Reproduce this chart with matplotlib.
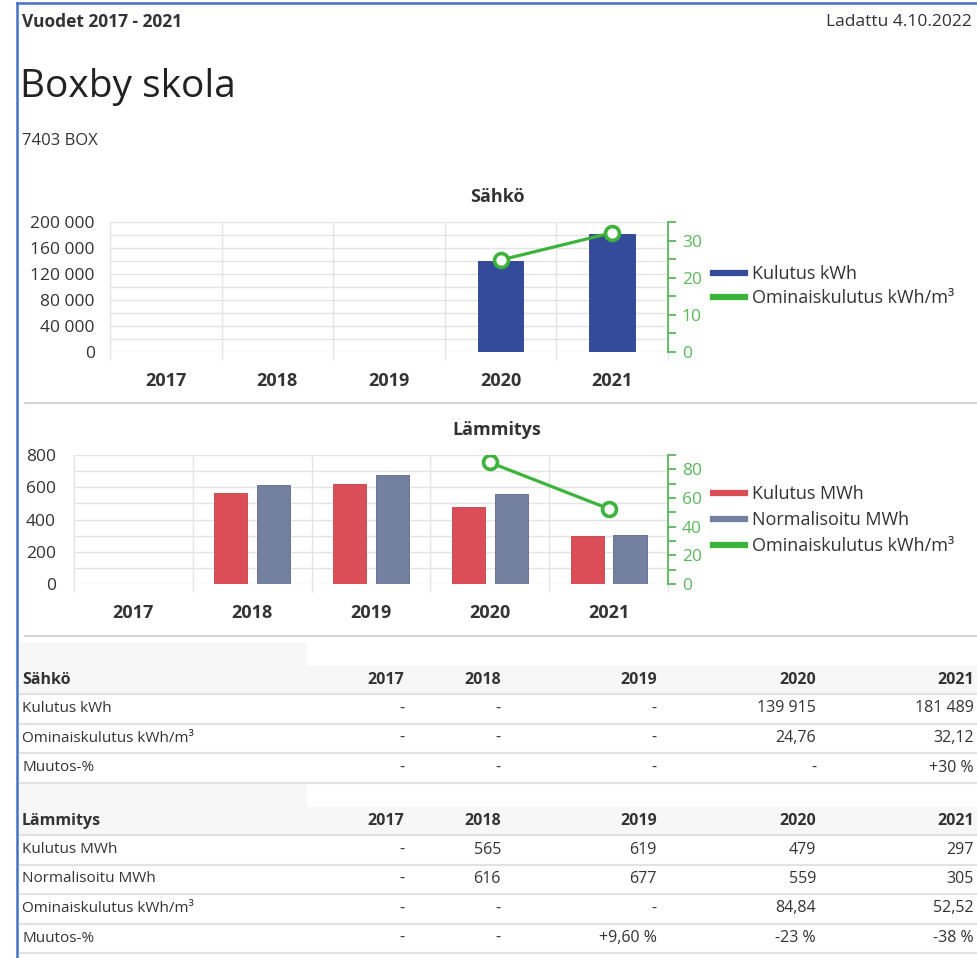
import numpy as np
import matplotlib
matplotlib.use("Agg")
import matplotlib.pyplot as plt
from matplotlib.lines import Line2D
from matplotlib.patches import Rectangle
from matplotlib.ticker import FuncFormatter, MultipleLocator

plt.rcParams["font.family"] = ["Open Sans", "DejaVu Sans"]

# Data
years = ["2017", "2018", "2019", "2020", "2021"]
sahko_kulutus = [np.nan, np.nan, np.nan, 139915, 181489]
sahko_omin = [np.nan, np.nan, np.nan, 24.76, 32.12]
sahko_muutos = ["-", "-", "-", "-", "+30 %"]
lampo_kulutus = [np.nan, 565, 619, 479, 297]
lampo_norm = [np.nan, 616, 677, 559, 305]
lampo_omin = [np.nan, np.nan, np.nan, 84.84, 52.52]
lampo_muutos = ["-", "-", "+9,60 %", "-23 %", "-38 %"]

W, H = 977, 958
TXT = "#333333"
BLUE = "#344a9a"
RED = "#db4e58"
SLATE = "#7380a0"
GREEN = "#3cb43c"
GREEN_TXT = "#5cb85c"
GRID = "#e4e4e4"

fig = plt.figure(figsize=(W / 100, H / 100), dpi=100)


def fx(x):
    return x / W


def fy(y):
    return 1 - y / H


def hline(x0, x1, y, color, lw):
    fig.add_artist(Line2D([fx(x0), fx(x1)], [fy(y), fy(y)], color=color, lw=lw,
                          transform=fig.transFigure))


def box(x0, y0, x1, y1, color):
    fig.add_artist(Rectangle((fx(x0), fy(y1)), fx(x1) - fx(x0), fy(y0) - fy(y1),
                             facecolor=color, edgecolor="none", transform=fig.transFigure, zorder=0))


def fi_num(v, dec=0):
    if v is None or (isinstance(v, float) and np.isnan(v)):
        return "-"
    s = f"{v:,.{dec}f}"
    return s.replace(",", " ").replace(".", ",")


# page frame
fig.add_artist(Line2D([fx(17), fx(17)], [fy(3), fy(958)], color="#4472c4", lw=1.8,
                      transform=fig.transFigure))
hline(17, 977, 3, "#4472c4", 1.8)

fig.text(fx(22), fy(22), "Vuodet 2017 - 2021", fontsize=12.5, fontweight="bold", color=TXT, va="center")
fig.text(fx(972), fy(22), "Ladattu 4.10.2022", fontsize=12.5, color=TXT, va="center", ha="right")
fig.text(fx(20), fy(87), "Boxby skola", fontsize=28, color="#222222", va="center")
fig.text(fx(22), fy(141), "7403 BOX", fontsize=12, color=TXT, va="center")

hline(25, 977, 403, "#cccccc", 1.2)
hline(25, 977, 636, "#cccccc", 1.2)


def setup_axes(ax, ymax, major, minor, fmt, pad):
    x = np.arange(len(years))
    ax.set_xlim(-0.5, len(years) - 0.5)
    ax.set_ylim(0, ymax)
    ax.set_xticks(x)
    ax.set_xticklabels(years, fontweight="bold", fontsize=13, color=TXT)
    ax.tick_params(axis="x", length=0, pad=14.5)
    ax.yaxis.set_major_locator(MultipleLocator(major))
    ax.yaxis.set_minor_locator(MultipleLocator(minor))
    ax.yaxis.set_major_formatter(FuncFormatter(fmt))
    ax.tick_params(axis="y", which="both", length=0, labelsize=12.5, labelcolor=TXT, pad=pad)
    ax.grid(axis="y", which="both", color=GRID, lw=1)
    ax.set_axisbelow(True)
    for s in ax.spines.values():
        s.set_visible(False)
    ax.vlines(np.arange(-0.5, len(years)), -0.065, 1, transform=ax.get_xaxis_transform(),
              color=GRID, lw=1, clip_on=False, zorder=0)


def setup_right(ax2, ymax, minor, labels_every):
    ax2.set_ylim(0, ymax)
    ax2.yaxis.set_major_locator(MultipleLocator(labels_every))
    ax2.yaxis.set_minor_locator(MultipleLocator(minor))
    ax2.tick_params(axis="y", which="both", length=6, width=1.3, color=GREEN_TXT,
                    labelcolor=GREEN_TXT, labelsize=12.5, pad=4)
    for k in ("left", "top", "bottom"):
        ax2.spines[k].set_visible(False)
    ax2.spines["right"].set_color(GREEN_TXT)
    ax2.spines["right"].set_linewidth(1.3)
    ax2.yaxis.set_major_formatter(FuncFormatter(lambda v, p: f"{v:.0f}"))


def legend(ax, handles, labels, ycenter, spacing):
    ax.legend(handles, labels, loc="center left", bbox_to_anchor=(fx(713), fy(ycenter)),
              bbox_transform=fig.transFigure, frameon=False, fontsize=13, labelcolor=TXT,
              handlelength=1.75, handletextpad=0.4, labelspacing=spacing, borderpad=0, borderaxespad=0)


x = np.arange(len(years))
space_fmt = lambda v, p: fi_num(v)

# Sähkö chart
ax1 = fig.add_axes([fx(110), fy(352), fx(668) - fx(110), fy(222) - fy(352)])
setup_axes(ax1, 200000, 40000, 20000, space_fmt, 11)
ax1.bar(x, sahko_kulutus, width=0.41, color=BLUE, edgecolor="#2c3f86", lw=0.6)
ax1b = ax1.twinx()
setup_right(ax1b, 35, 5, 10)
ax1b.plot(x, sahko_omin, color=GREEN, lw=2.3, marker="o", markersize=10,
          markerfacecolor="white", markeredgecolor=GREEN, markeredgewidth=2.6)
fig.text(fx(497), fy(197), "Sähkö", fontsize=13, fontweight="bold", color=TXT, ha="center", va="center")
legend(ax1b, [Line2D([], [], color=BLUE, lw=4.5), Line2D([], [], color=GREEN, lw=4.5)],
       ["Kulutus kWh", "Ominaiskulutus kWh/m³"], 286, 0.33)

# Lämmitys chart
ax2 = fig.add_axes([fx(74), fy(584), fx(668) - fx(74), fy(455) - fy(584)])
setup_axes(ax2, 800, 200, 100, space_fmt, 13)
ax2.bar(x - 0.18, lampo_kulutus, width=0.28, color=RED, edgecolor="#c2414b", lw=0.6)
ax2.bar(x + 0.18, lampo_norm, width=0.28, color=SLATE, edgecolor="#5e6a8a", lw=0.6)
ax2b = ax2.twinx()
setup_right(ax2b, 90, 10, 20)
ax2b.plot(x, lampo_omin, color=GREEN, lw=2.3, marker="o", markersize=10,
          markerfacecolor="white", markeredgecolor=GREEN, markeredgewidth=2.6)
fig.text(fx(497), fy(430), "Lämmitys", fontsize=13, fontweight="bold", color=TXT, ha="center", va="center")
legend(ax2b, [Line2D([], [], color=RED, lw=4.5), Line2D([], [], color=SLATE, lw=4.5),
              Line2D([], [], color=GREEN, lw=4.5)],
       ["Kulutus MWh", "Normalisoitu MWh", "Ominaiskulutus kWh/m³"], 520, 0.44)

# Tables
col_right = [404, 501, 657, 816, 974]


def table(top, title, rows):
    box(20, top - 23, 307, top, "#f7f7f7")
    box(20, top, 977, top + 28, "#f7f7f7")
    fig.text(fx(22), fy(top + 14), title, fontsize=11.5, fontweight="bold", color=TXT, va="center")
    for xr, yr in zip(col_right, years):
        fig.text(fx(xr), fy(top + 14), yr, fontsize=11.5, fontweight="bold", color=TXT, va="center", ha="right")
    hline(20, 977, top + 28, "#e2e2e2", 1.5)
    y = top + 28
    for label, vals in rows:
        yc = y + 14.5
        fig.text(fx(22), fy(yc), label, fontsize=11, color=TXT, va="center")
        for xr, v in zip(col_right, vals):
            fig.text(fx(xr), fy(yc), v, fontsize=11.5, color=TXT, va="center", ha="right")
        y += 29.5
        hline(20, 977, y, "#e2e2e2", 1.5)


table(666, "Sähkö", [
    ("Kulutus kWh", [fi_num(v) for v in sahko_kulutus]),
    ("Ominaiskulutus kWh/m³", [fi_num(v, 2) for v in sahko_omin]),
    ("Muutos-%", sahko_muutos),
])
table(807, "Lämmitys", [
    ("Kulutus MWh", [fi_num(v) for v in lampo_kulutus]),
    ("Normalisoitu MWh", [fi_num(v) for v in lampo_norm]),
    ("Ominaiskulutus kWh/m³", [fi_num(v, 2) for v in lampo_omin]),
    ("Muutos-%", lampo_muutos),
])

fig.savefig("out.png", dpi=100)
